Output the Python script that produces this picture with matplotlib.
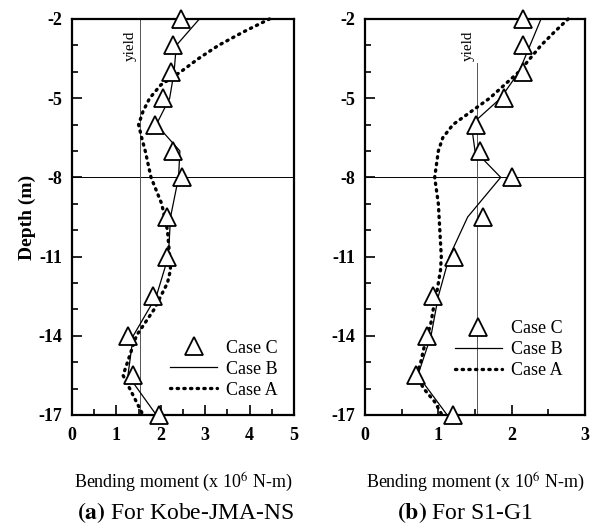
import numpy as np
import matplotlib.pyplot as plt
from matplotlib.ticker import MultipleLocator, FixedLocator
from matplotlib.lines import Line2D

plt.rcParams['font.family'] = ['Liberation Serif', 'DejaVu Serif']
plt.rcParams['mathtext.fontset'] = 'stix'
plt.rcParams['axes.unicode_minus'] = False

# (a) Kobe-JMA-NS
depth_c = [-2, -3, -4, -5, -6, -7, -8, -9.5, -11, -12.5, -14, -15.5, -17]
kobe_c = [2.45, 2.27, 2.22, 2.04, 1.88, 2.28, 2.48, 2.15, 2.13, 1.82, 1.27, 1.38, 1.97]
depth_b = [-2, -3, -4, -5, -6, -7, -8, -9.5, -11, -12.5, -14, -15.5, -17]
kobe_b = [2.87, 2.35, 2.3, 2.2, 1.9, 2.43, 2.4, 2.22, 2.17, 1.9, 1.38, 1.26, 1.9]
depth_a = [-2, -2.5, -3, -3.5, -4, -4.5, -5, -5.5, -6, -6.5, -7, -8, -9, -10,
           -11, -11.5, -12, -12.5, -13, -13.5, -14, -14.5, -15, -15.5, -16, -16.5, -17]
kobe_a = [4.45, 3.85, 3.3, 2.85, 2.45, 2.0, 1.75, 1.6, 1.5, 1.57, 1.65, 1.78, 2.02, 2.15,
          2.2, 2.22, 2.15, 2.0, 1.85, 1.65, 1.45, 1.35, 1.25, 1.15, 1.3, 1.45, 1.6]

# (b) S1-G1
s1_c = [2.15, 2.15, 2.15, 1.90, 1.52, 1.57, 2.0, 1.61, 1.21, 0.93, 0.85, 0.70, 1.2]
s1_b = [2.4, 2.25, 2.1, 1.85, 1.45, 1.5, 1.85, 1.4, 1.15, 1.0, 0.9, 0.72, 1.12]
s1_a = [2.77, 2.58, 2.4, 2.25, 2.1, 1.9, 1.7, 1.45, 1.2, 1.06, 1.0, 0.95, 1.0, 1.02,
        1.04, 1.03, 1.0, 0.97, 0.93, 0.9, 0.85, 0.8, 0.76, 0.7, 0.8, 0.95, 1.05]

yield_moment = 1.53
depth_ticks = [-2, -5, -8, -11, -14, -17]

fig = plt.figure(figsize=(5.94, 5.31), dpi=100)
ax1 = fig.add_axes([0.1212, 0.2185, 0.3737, 0.7458])
ax2 = fig.add_axes([0.6145, 0.2185, 0.3704, 0.7458])

dotted = (0, (0.4, 1.6))


def draw_panel(ax, mc, mb, ma, xmax, legend_anchor, yield_top):
    ax.axhline(-8, color='black', lw=0.7, zorder=1)
    ax.axvline(yield_moment, ymax=yield_top, color='#555555', lw=0.7, zorder=1)
    ax.plot(ma, depth_a, color='black', lw=2.4, linestyle=dotted,
            dash_capstyle='round', clip_on=False, zorder=3)
    ax.plot(mb, depth_b, color='black', lw=0.9, clip_on=False, zorder=3)
    ax.plot(mc, depth_c, linestyle='none', marker='^', markersize=13,
            markerfacecolor='white', markeredgecolor='black', markeredgewidth=1.3,
            clip_on=False, zorder=4)
    ax.annotate('yield', xy=(yield_moment, -3.0), xytext=(-2, 0),
                textcoords='offset points', rotation=90, ha='right', va='center',
                fontsize=11)
    ax.set_xlim(0, xmax)
    ax.set_ylim(-17, -2)
    ax.xaxis.set_major_locator(MultipleLocator(1))
    ax.xaxis.set_minor_locator(MultipleLocator(0.5))
    ax.yaxis.set_major_locator(FixedLocator(depth_ticks))
    ax.yaxis.set_minor_locator(MultipleLocator(1))
    ax.tick_params(which='both', direction='in', labelsize=13)
    ax.tick_params(axis='x', pad=9)
    ax.tick_params(axis='y', pad=7)
    ax.tick_params(which='major', length=7, width=1.2)
    ax.tick_params(which='minor', length=4, width=1.2)
    for lbl in ax.get_xticklabels() + ax.get_yticklabels():
        lbl.set_fontweight('bold')
    for s in ax.spines.values():
        s.set_linewidth(1.6)
    ax.set_xlabel('Bending moment (x 10$^6$ N-m)', fontsize=13, labelpad=19)

    handles = [
        Line2D([], [], linestyle='none', marker='^', markersize=13,
               markerfacecolor='white', markeredgecolor='black', markeredgewidth=1.3),
        Line2D([], [], color='black', lw=0.9),
        Line2D([], [], color='black', lw=2.4, linestyle=dotted, dash_capstyle='round'),
    ]
    ax.legend(handles, ['Case C', 'Case B', 'Case A'], loc='lower right',
              bbox_to_anchor=legend_anchor, frameon=False, fontsize=13,
              handlelength=2.6, handletextpad=0.5, labelspacing=0.22)


draw_panel(ax1, kobe_c, kobe_b, kobe_a, 5, (1.0, 0.0), 1.0)
draw_panel(ax2, s1_c, s1_b, s1_a, 3, (0.97, 0.05), 0.889)

ax1.set_ylabel('Depth (m)', fontsize=14, fontweight='bold', labelpad=2)

fig.text(0.313, 0.022, r'$\mathbf{(a)}$ For Kobe-JMA-NS', ha='center', fontsize=17)
fig.text(0.783, 0.022, r'$\mathbf{(b)}$ For S1-G1', ha='center', fontsize=17)

fig.savefig('out.png', dpi=100)
